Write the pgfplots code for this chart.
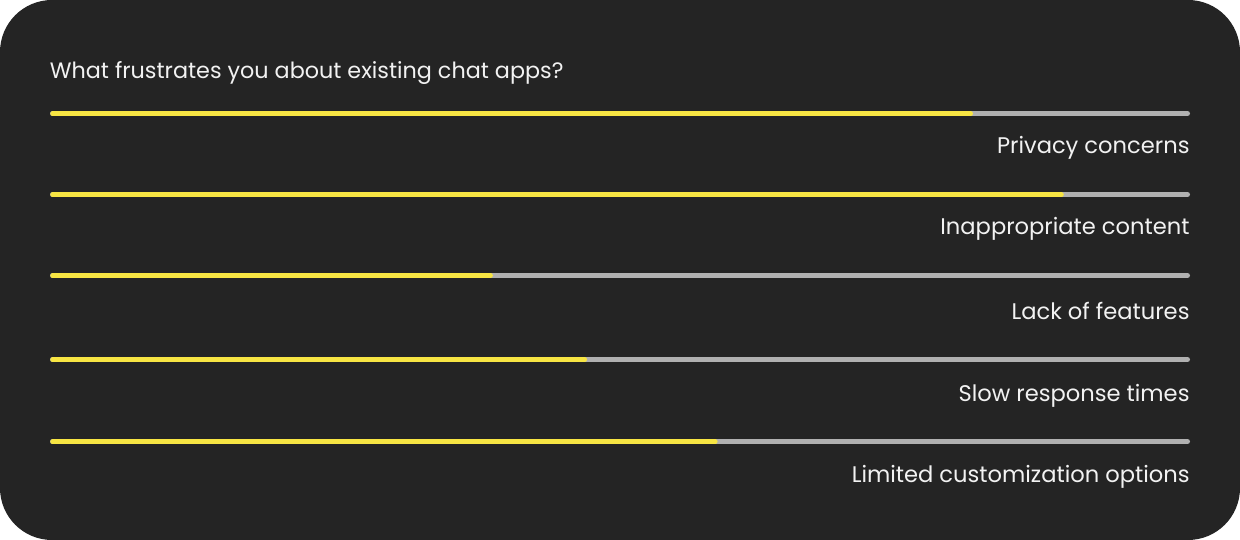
\documentclass[border=0pt]{standalone}
\usepackage{pgfplots}
\pgfplotsset{compat=1.18}
\usepackage{fontspec}
\setmainfont{Poppins}
\definecolor{bgdark}{HTML}{242424}
\definecolor{track}{HTML}{B0B0B0}
\definecolor{fillyellow}{HTML}{F7E543}
\definecolor{txt}{HTML}{F2F2F2}
\begin{document}
\begin{tikzpicture}[x=1pt,y=1pt]
\path[use as bounding box] (0,0) rectangle (1240,540);
\fill[white] (0,0) rectangle (1240,540);
\fill[bgdark, rounded corners=52pt] (0,0) rectangle (1240,540);
\begin{axis}[
  at={(52.5pt,0pt)}, anchor=south west,
  scale only axis, width=1135pt, height=540pt,
  xmin=0, xmax=100, ymin=0, ymax=540, y dir=reverse,
  hide axis, clip=false,
]
% grey tracks
\addplot[track, line width=5pt, line cap=round] coordinates {(0,113.5) (100,113.5)};
\addplot[track, line width=5pt, line cap=round] coordinates {(0,194.5) (100,194.5)};
\addplot[track, line width=5pt, line cap=round] coordinates {(0,275.5) (100,275.5)};
\addplot[track, line width=5pt, line cap=round] coordinates {(0,359.5) (100,359.5)};
\addplot[track, line width=5pt, line cap=round] coordinates {(0,441.5) (100,441.5)};
% yellow values
\addplot[fillyellow, line width=4.5pt, line cap=round] coordinates {(0,113.7) (80.9,113.7)};
\addplot[fillyellow, line width=4.5pt, line cap=round] coordinates {(0,194.7) (88.9,194.7)};
\addplot[fillyellow, line width=4.5pt, line cap=round] coordinates {(0,275.7) (38.6,275.7)};
\addplot[fillyellow, line width=4.5pt, line cap=round] coordinates {(0,359.7) (46.9,359.7)};
\addplot[fillyellow, line width=4.5pt, line cap=round] coordinates {(0,441.7) (58.4,441.7)};
\node[anchor=base west, text=txt, font=\fontsize{22.3}{26}\selectfont, inner sep=0pt] at (axis cs:-0.25,78.5) {What frustrates you about existing chat apps?};
\node[anchor=base east, text=txt, font=\fontsize{22.6}{26}\selectfont, inner sep=0pt] at (axis cs:100.2,154) {Privacy concerns};
\node[anchor=base east, text=txt, font=\fontsize{22.6}{26}\selectfont, inner sep=0pt] at (axis cs:100.2,235) {Inappropriate content};
\node[anchor=base east, text=txt, font=\fontsize{22.6}{26}\selectfont, inner sep=0pt] at (axis cs:100.2,320) {Lack of features};
\node[anchor=base east, text=txt, font=\fontsize{22.6}{26}\selectfont, inner sep=0pt] at (axis cs:100.2,401) {Slow response times};
\node[anchor=base east, text=txt, font=\fontsize{22.6}{26}\selectfont, inner sep=0pt] at (axis cs:100.2,482) {Limited customization options};
\end{axis}
\end{tikzpicture}
\end{document}
